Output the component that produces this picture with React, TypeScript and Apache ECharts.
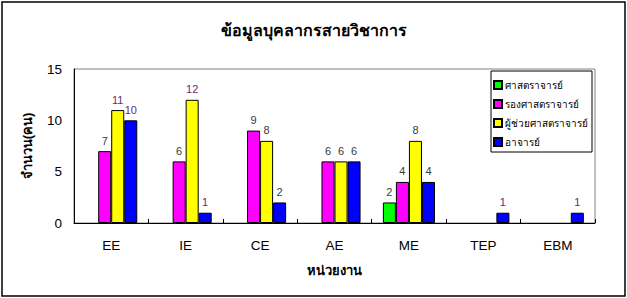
import React, { useEffect, useRef } from "react";
import * as echarts from "echarts";

const categories = ["EE", "IE", "CE", "AE", "ME", "TEP", "EBM"];
const seriesNames = ["ศาสตราจารย์", "รองศาสตราจารย์", "ผู้ช่วยศาสตราจารย์", "อาจารย์"];
const professor: (number | null)[] = [null, null, null, null, 2, null, null];
const assocProfessor: (number | null)[] = [7, 6, 9, 6, 4, null, null];
const asstProfessor: (number | null)[] = [11, 12, 8, 6, 8, null, null];
const lecturer: (number | null)[] = [10, 1, 2, 6, 4, 1, 1];
const yTicks = [0, 5, 10, 15];

// which labels render purple in the reference: [seriesIndex, categoryIndex]
const purpleLabels: [number, number][] = [
  [2, 0], [3, 0], [2, 1], [3, 1], [3, 5], [3, 6],
];

const colors = ["#00FF00", "#FF00FF", "#FFFF00", "#0000FF"];
const FONT = 'Arial, "Liberation Sans", "Noto Sans", sans-serif';

export default function App() {
  const ref = useRef<HTMLDivElement>(null);
  useEffect(() => {
    document.body.style.margin = "0";
    const chart = echarts.init(ref.current!, null, { renderer: "svg" });
    const all = [professor, assocProfessor, asstProfessor, lecturer];
    const series = all.map((arr, si) => ({
      name: seriesNames[si],
      type: "bar",
      barGap: "0%",
      barCategoryGap: "30%",
      itemStyle: { color: colors[si], borderColor: "#000", borderWidth: 1 },
      label: {
        show: true,
        position: "top",
        distance: 5,
        fontSize: 11,
        fontFamily: FONT,
        color: "#3a3a3a",
      },
      data: arr.map((v, ci) =>
        v == null
          ? null
          : {
              value: v,
              label: purpleLabels.some(([s, c]) => s === si && c === ci)
                ? { color: "#6a2878" }
                : {},
            }
      ),
    }));
    chart.setOption({
      animation: false,
      backgroundColor: "#fff",
      textStyle: { fontFamily: FONT },
      title: {
        text: "ข้อมูลบุคลากรสายวิชาการ",
        left: "center",
        top: 17,
        textStyle: { fontSize: 16, fontWeight: "bold", color: "#000", fontFamily: FONT },
      },
      grid: {
        left: 74,
        top: 69,
        width: 521,
        height: 154,
        show: true,
        borderColor: "#808080",
        borderWidth: 1,
        backgroundColor: "transparent",
      },
      legend: {
        orient: "vertical",
        left: 491,
        top: 71,
        padding: [7, 4, 3, 2],
        itemGap: 5,
        itemWidth: 8,
        itemHeight: 8,
        borderColor: "#000",
        borderWidth: 1,
        backgroundColor: "#fff",
        data: seriesNames.map((n) => ({ name: n, icon: "rect" })),
        textStyle: { fontSize: 10, color: "#000", fontFamily: FONT, lineHeight: 14, padding: [0, 0, 0, -2] },
      },
      xAxis: {
        type: "category",
        data: categories,
        name: "หน่วยงาน",
        nameLocation: "middle",
        nameGap: 41,
        nameTextStyle: { fontSize: 13, fontWeight: "bold", color: "#000", fontFamily: FONT },
        axisLine: { lineStyle: { color: "#000", width: 1 } },
        axisTick: { show: true, inside: true, length: 4, lineStyle: { color: "#000" } },
        axisLabel: { fontSize: 13.5, color: "#000", margin: 15, fontFamily: FONT },
      },
      yAxis: {
        type: "value",
        min: yTicks[0],
        max: yTicks[yTicks.length - 1],
        interval: 5,
        name: "จำนวน(คน)",
        nameLocation: "middle",
        nameGap: 40,
        nameRotate: 90,
        nameTextStyle: { fontSize: 13, fontWeight: "bold", color: "#000", fontFamily: FONT },
        axisLine: { show: true, lineStyle: { color: "#000", width: 1 } },
        axisTick: { show: false },
        splitLine: { show: false },
        axisLabel: { fontSize: 13.5, color: "#000", margin: 12, fontFamily: FONT },
      },
      graphic: [
        {
          type: "rect",
          shape: { x: 2, y: 2, width: 623, height: 294 },
          style: { fill: "none", stroke: "#000", lineWidth: 1.5 },
          silent: true,
        },
      ],
      series,
    });
    return () => chart.dispose();
  }, []);
  return <div ref={ref} style={{ width: 627, height: 298 }} />;
}
